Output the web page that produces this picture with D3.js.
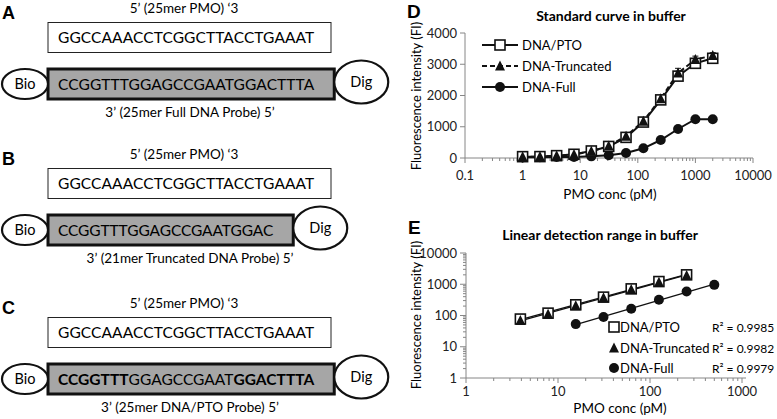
<!DOCTYPE html>
<html><head><meta charset="utf-8">
<script src="https://cdn.jsdelivr.net/npm/d3@7"></script>
<style>body{margin:0;background:#fff}svg{display:block}text{font-family:Lato,"Open Sans",sans-serif}</style>
</head><body>
<svg id="c" width="777" height="419"></svg>
<script>
// ---------- data ----------
const schemeLetters = ["A", "B", "C"];
const pmoLabel = "5\u2019 (25mer PMO) \u20183";
const pmoSeq = "GGCCAAACCTCGGCTTACCTGAAAT";
const probeLabels = ["3\u2019 (25mer Full DNA Probe) 5\u2019", "3\u2019 (21mer Truncated DNA Probe) 5\u2019", "3\u2019 (25mer DNA/PTO Probe) 5\u2019"];
const probeFullSeq = [["CCGGTTTGGAGCCGAATGGACTTTA", false]];
const probeTruncSeq = [["CCGGTTTGGAGCCGAATGGAC", false]];
const probePtoSeq = [["CCGGTTT", true], ["GGAGCCGAAT", false], ["GGACTTTA", true]];
const probeSeqs = [probeFullSeq, probeTruncSeq, probePtoSeq];

const seriesNames = ["DNA/PTO", "DNA-Truncated", "DNA-Full"];
const titleD = "Standard curve in buffer";
const titleE = "Linear detection range in buffer";
const xLabel = "PMO conc (pM)";
const yLabel = "Fluorescence intensity (FI)";

const concD = [1, 2, 3.9, 7.8, 15.6, 31.25, 62.5, 125, 250, 500, 1000, 2000];
const ptoD = [43, 45, 75, 119, 225, 370, 660, 1150, 1860, 2620, 3030, 3190];
const truncD = [40, 45, 70, 110, 215, 385, 700, 1180, 1900, 2720, 3150, 3280];
const fullD = [20, 25, 30, 35, 53, 89, 160, 310, 576, 928, 1240, 1240];
const truncErrD = [10, 10, 10, 10, 15, 20, 30, 40, 50, 150, 110, 90];

const concE = [3.9, 7.8, 15.6, 31.25, 62.5, 125, 250];
const ptoE = [77, 119, 220, 387, 711, 1220, 2000];
const truncE = [69, 110, 205, 370, 680, 1150, 1900];
const concEFull = [15.6, 31.25, 62.5, 125, 250, 500];
const fullE = [53, 89, 164, 318, 585, 955];
const r2E = ["0.9985", "0.9982", "0.9979"];

const yTicksD = [0, 1000, 2000, 3000, 4000];
const xTicksD = [0.1, 1, 10, 100, 1000, 10000];
const xTicksE = [1, 10, 100, 1000];
const yTicksE = [1, 10, 100, 1000, 10000];

// ---------- drawing ----------
const svg = d3.select("#c");
const axisGray = "#868686";

// Schematics A-C
const panelY = [0, 146, 295];
const charW = 10.25;
schemeLetters.forEach((L, i) => {
  const g = svg.append("g").attr("transform", `translate(0,${panelY[i]})`);
  g.append("text").attr("x", 2).attr("y", 19).text(L)
    .style("font-family", "Arial, Liberation Sans").style("font-weight", "bold").style("font-size", "18px");
  g.append("text").attr("x", 184).attr("y", 13).attr("text-anchor", "middle").style("font-size", "13.5px").text(pmoLabel);
  g.append("rect").attr("x", 48).attr("y", 22.5).attr("width", 283).attr("height", 30)
    .attr("fill", "#fff").attr("stroke", "#222").attr("stroke-width", 1);
  g.append("text").attr("x", 58).attr("y", 43).attr("textLength", pmoSeq.length * charW).attr("lengthAdjust", "spacing")
    .style("font-size", "15.5px").text(pmoSeq);
  // probe
  const segs = probeSeqs[i];
  const n = d3.sum(segs, s => s[0].length);
  const tl = n * charW;
  const right = 48 + 10 + tl + 20;
  const pc = 84;
  g.append("rect").attr("x", 48).attr("y", 69).attr("width", right - 48).attr("height", 30)
    .attr("fill", "#a6a6a6").attr("stroke", "#111").attr("stroke-width", 3);
  const t = g.append("text").attr("x", 58).attr("y", 90).attr("textLength", tl).attr("lengthAdjust", "spacing")
    .style("font-size", "15.5px");
  segs.forEach(s => t.append("tspan").style("font-weight", s[1] ? "bold" : "normal").text(s[0]));
  g.append("ellipse").attr("cx", 25).attr("cy", pc).attr("rx", 23).attr("ry", 15)
    .attr("fill", "#fff").attr("stroke", "#111").attr("stroke-width", 2.2);
  g.append("text").attr("x", 25).attr("y", pc + 5).attr("text-anchor", "middle").style("font-size", "14.5px").text("Bio");
  g.append("ellipse").attr("cx", right + 27).attr("cy", pc - 2).attr("rx", 27).attr("ry", 21.5)
    .attr("fill", "#fff").attr("stroke", "#111").attr("stroke-width", 2.2);
  g.append("text").attr("x", right + 27).attr("y", pc + 3).attr("text-anchor", "middle").style("font-size", "14.5px").text("Dig");
  g.append("text").attr("x", 190).attr("y", 117).attr("text-anchor", "middle").style("font-size", "13.5px").text(probeLabels[i]);
});

// marker helper
function marker(g, type, x, y, s) {
  if (type === 0) {
    g.append("rect").attr("x", x - s / 2).attr("y", y - s / 2).attr("width", s).attr("height", s)
      .attr("fill", "#fff").attr("stroke", "#111").attr("stroke-width", 1.6);
  } else if (type === 1) {
    const h = s * 0.9;
    g.append("path").attr("d", `M${x},${y - h / 2 - 1}L${x + s / 2},${y + h / 2}L${x - s / 2},${y + h / 2}Z`).attr("fill", "#111");
  } else {
    g.append("circle").attr("cx", x).attr("cy", y).attr("r", s / 2).attr("fill", "#111");
  }
}

function minorLogTicks(dom) {
  const out = [];
  for (let e = Math.log10(dom[0]); e < Math.log10(dom[1]); e++) {
    for (let k = 2; k <= 9; k++) out.push(k * Math.pow(10, e));
  }
  return out;
}

// ---------- Panel D ----------
{
  const g = svg.append("g");
  const x = d3.scaleLog().domain([0.1, 10000]).range([465, 753]);
  const y = d3.scaleLinear().domain([0, 4000]).range([158, 33]);
  g.append("text").attr("x", 407).attr("y", 18).text("D")
    .style("font-family", "Arial, Liberation Sans").style("font-weight", "bold").style("font-size", "19px");
  g.append("text").attr("x", 611).attr("y", 21).attr("text-anchor", "middle")
    .style("font-weight", "bold").style("font-size", "14px").text(titleD);
  // axes
  g.append("line").attr("x1", x.range()[0]).attr("x2", x.range()[1]).attr("y1", y(0)).attr("y2", y(0)).attr("stroke", axisGray);
  g.append("line").attr("x1", x.range()[0]).attr("x2", x.range()[0]).attr("y1", y(0)).attr("y2", y(4000)).attr("stroke", axisGray);
  g.selectAll(".yt").data(yTicksD).enter().append("line")
    .attr("x1", 460).attr("x2", 465).attr("y1", d => y(d)).attr("y2", d => y(d)).attr("stroke", axisGray);
  g.selectAll(".yl").data(yTicksD).enter().append("text")
    .attr("x", 457).attr("y", d => y(d) + 4.5).attr("text-anchor", "end").style("font-size", "13px").attr("fill", "#222").text(d => d);
  g.selectAll(".xt").data(xTicksD).enter().append("line")
    .attr("x1", d => x(d)).attr("x2", d => x(d)).attr("y1", y(0)).attr("y2", y(0) + 5).attr("stroke", axisGray);
  g.selectAll(".xm").data(minorLogTicks(x.domain())).enter().append("line")
    .attr("x1", d => x(d)).attr("x2", d => x(d)).attr("y1", y(0)).attr("y2", y(0) + 3).attr("stroke", axisGray);
  g.selectAll(".xl").data(xTicksD).enter().append("text")
    .attr("x", d => x(d)).attr("y", 180).attr("text-anchor", "middle").style("font-size", "13px").attr("fill", "#222").text(d => d);
  g.append("text").attr("x", 610).attr("y", 199).attr("text-anchor", "middle").style("font-size", "13.5px").text(xLabel);
  g.append("text").attr("transform", "translate(421,96) rotate(-90)").attr("text-anchor", "middle").style("font-size", "13px").text(yLabel);

  const series = [ptoD, truncD, fullD];
  const line = d3.line().x((d, i) => x(concD[i])).y(d => y(d));
  // error bars
  concD.forEach((c, i) => {
    [truncD, ptoD].forEach(s => {
      const e = truncErrD[i];
      g.append("line").attr("x1", x(c)).attr("x2", x(c)).attr("y1", y(s[i] - e)).attr("y2", y(s[i] + e)).attr("stroke", "#111");
      g.append("line").attr("x1", x(c) - 3).attr("x2", x(c) + 3).attr("y1", y(s[i] + e)).attr("y2", y(s[i] + e)).attr("stroke", "#111");
    });
  });
  [2, 1, 0].forEach(k => {
    g.append("path").attr("d", line(series[k])).attr("fill", "none").attr("stroke", "#111")
      .attr("stroke-width", 2).attr("stroke-dasharray", k === 1 ? "5,3" : null);
  });
  [2, 0, 1].forEach(k => series[k].forEach((v, i) => marker(g, k, x(concD[i]), y(v), 10)));
  // legend
  const ly = [45, 66, 87];
  seriesNames.forEach((nm, k) => {
    g.append("line").attr("x1", 482).attr("x2", 518).attr("y1", ly[k]).attr("y2", ly[k]).attr("stroke", "#111")
      .attr("stroke-width", 2).attr("stroke-dasharray", k === 1 ? "5,3" : null);
    marker(g, k, 500, ly[k], 10);
    g.append("text").attr("x", 522).attr("y", ly[k] + 4.5).style("font-size", "13px").text(nm);
  });
}

// ---------- Panel E ----------
{
  const g = svg.append("g");
  const x = d3.scaleLog().domain([1, 1000]).range([466, 742]);
  const y = d3.scaleLog().domain([1, 10000]).range([378, 253]);
  g.append("text").attr("x", 408).attr("y", 234).text("E")
    .style("font-family", "Arial, Liberation Sans").style("font-weight", "bold").style("font-size", "19px");
  g.append("text").attr("x", 600).attr("y", 240).attr("text-anchor", "middle")
    .style("font-weight", "bold").style("font-size", "14px").text(titleE);
  g.append("line").attr("x1", x.range()[0]).attr("x2", 746).attr("y1", y(1)).attr("y2", y(1)).attr("stroke", axisGray);
  g.append("line").attr("x1", x.range()[0]).attr("x2", x.range()[0]).attr("y1", y(1)).attr("y2", y(10000)).attr("stroke", axisGray);
  g.selectAll(".yt").data(yTicksE).enter().append("line")
    .attr("x1", 460).attr("x2", 466).attr("y1", d => y(d)).attr("y2", d => y(d)).attr("stroke", axisGray);
  g.selectAll(".ym").data(minorLogTicks(y.domain())).enter().append("line")
    .attr("x1", 463).attr("x2", 466).attr("y1", d => y(d)).attr("y2", d => y(d)).attr("stroke", axisGray);
  g.selectAll(".yl").data(yTicksE).enter().append("text")
    .attr("x", 457).attr("y", d => y(d) + 4.5).attr("text-anchor", "end").style("font-size", "13px").attr("fill", "#222").text(d => d);
  g.selectAll(".xt").data(xTicksE).enter().append("line")
    .attr("x1", d => x(d)).attr("x2", d => x(d)).attr("y1", y(1)).attr("y2", y(1) + 5).attr("stroke", axisGray);
  g.selectAll(".xm").data(minorLogTicks(x.domain())).enter().append("line")
    .attr("x1", d => x(d)).attr("x2", d => x(d)).attr("y1", y(1)).attr("y2", y(1) + 3).attr("stroke", axisGray);
  g.selectAll(".xl").data(xTicksE).enter().append("text")
    .attr("x", d => x(d)).attr("y", 396).attr("text-anchor", "middle").style("font-size", "13px").attr("fill", "#222").text(d => d);
  g.append("text").attr("x", 620).attr("y", 413).attr("text-anchor", "middle").style("font-size", "13.5px").text(xLabel);
  g.append("text").attr("transform", "translate(421,315) rotate(-90)").attr("text-anchor", "middle").style("font-size", "13px").text(yLabel);

  const sets = [[concE, ptoE], [concE, truncE], [concEFull, fullE]];
  // power-law trendlines fitted in log-log space
  sets.forEach(([cx, cy]) => {
    const lx = cx.map(Math.log10), ly = cy.map(Math.log10);
    const mx = d3.mean(lx), my = d3.mean(ly);
    const b = d3.sum(lx, (v, i) => (v - mx) * (ly[i] - my)) / d3.sum(lx, v => (v - mx) ** 2);
    const a = my - b * mx;
    const x0 = cx[0], x1 = cx[cx.length - 1];
    g.append("line").attr("x1", x(x0)).attr("x2", x(x1))
      .attr("y1", y(Math.pow(10, a + b * Math.log10(x0)))).attr("y2", y(Math.pow(10, a + b * Math.log10(x1))))
      .attr("stroke", "#111").attr("stroke-width", 1.3);
  });
  [2, 0, 1].forEach(k => sets[k][1].forEach((v, i) => marker(g, k, x(sets[k][0][i]), y(v), 10)));
  const ly = [327, 348, 368];
  seriesNames.forEach((nm, k) => {
    marker(g, k, 614, ly[k], 10);
    g.append("text").attr("x", 620).attr("y", ly[k] + 5).style("font-size", "13px").text(nm);
    g.append("text").attr("x", 712).attr("y", ly[k] + 5).style("font-size", "12px").text("R\u00b2 = " + r2E[k]);
  });
}
</script>
</body></html>
